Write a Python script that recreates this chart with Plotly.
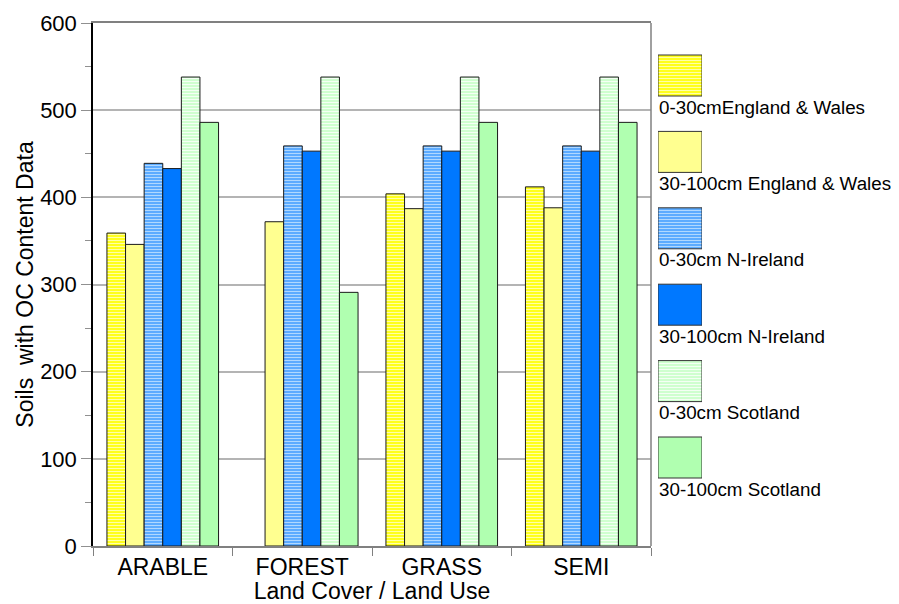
import plotly.graph_objects as go

categories = ["ARABLE", "FOREST", "GRASS", "SEMI"]
series_names = ["0-30cmEngland & Wales", "30-100cm England & Wales",
                "0-30cm N-Ireland", "30-100cm N-Ireland",
                "0-30cm Scotland", "30-100cm Scotland"]
ew_0_30 = [359, None, 404, 412]
ew_30_100 = [346, 372, 387, 388]
ni_0_30 = [439, 459, 459, 459]
ni_30_100 = [433, 453, 453, 453]
sc_0_30 = [538, 538, 538, 538]
sc_30_100 = [486, 291, 486, 486]
y_ticks = [0, 100, 200, 300, 400, 500, 600]

series_values = [ew_0_30, ew_30_100, ni_0_30, ni_30_100, sc_0_30, sc_30_100]
styles = [
    dict(bg="#FFFF00", fg="#FFFFA8", shape="-"),
    dict(bg="#FFFF90", fg="#FFFF90", shape=""),
    dict(bg="#4AA2FF", fg="#B0D8FF", shape="-"),
    dict(bg="#0078FF", fg="#0078FF", shape=""),
    dict(bg="#C8FFC8", fg="#F4FFF4", shape="-"),
    dict(bg="#B0FFB0", fg="#B0FFB0", shape=""),
]

FONT = "Liberation Sans, Arial, sans-serif"
OFF = 8  # default page body margin
W, H = 899 - OFF, 604 - OFF
# target pixel geometry (page coordinates)
plot_left, plot_top, plot_right, plot_bottom = 93, 23, 651, 546
ML = plot_left - OFF
MT = plot_top - OFF
MB = H - (plot_bottom - OFF)
MR = 4
PW = W - ML - MR
PH = H - MT - MB


def pattern(st):
    if st["shape"]:
        return dict(shape=st["shape"], bgcolor=st["bg"], fgcolor=st["fg"],
                    fgopacity=1, size=3, solidity=0.45, fillmode="replace")
    return dict(shape="")


fig = go.Figure()
for name, vals, st in zip(series_names, series_values, styles):
    fig.add_trace(go.Bar(
        x=categories, y=vals, name=name, showlegend=False,
        marker=dict(color=st["bg"], line=dict(color="#1a1a1a", width=1),
                    pattern=pattern(st)),
    ))

# custom legend: swatch squares with labels beneath
leg_top0 = 55 - plot_top     # px from plot top for first swatch
leg_step = 76.4
sw_h = 41
leg_x0 = (658 - plot_left) / PW
leg_x1 = (702 - plot_left) / PW
for i, (name, st) in enumerate(zip(series_names, styles)):
    base = PH - (leg_top0 + i * leg_step + sw_h)
    fig.add_trace(go.Bar(
        x=[0], y=[sw_h], base=[base], width=[1], offsetgroup="legend",
        xaxis="x2", yaxis="y2", showlegend=False, hoverinfo="skip",
        marker=dict(color=st["bg"], line=dict(color="#333333", width=1),
                    pattern=pattern(st)),
    ))
    fig.add_annotation(
        text=name, xref="paper", yref="y2", x=leg_x0 - 1 / PW,
        y=base - 11,
        xanchor="left", yanchor="middle", showarrow=False,
        font=dict(family=FONT, size=18.8, color="#000000"),
    )

main_right = (plot_right - plot_left) / PW
fig.update_layout(
    width=W, height=H,
    margin=dict(l=ML, r=MR, t=MT, b=MB, pad=0, autoexpand=False),
    paper_bgcolor="white", plot_bgcolor="white",
    barmode="group", bargap=0.2, bargroupgap=0,
    font=dict(family=FONT, size=23, color="#000000"),
    xaxis=dict(
        domain=[0, main_right], type="category", automargin=False,
        showline=True, linecolor="#808080", linewidth=1.5, mirror=True,
        ticks="outside", ticklen=8, tickcolor="#808080", tickson="boundaries",
        showgrid=False, tickfont=dict(size=23),
        title=dict(text="Land Cover / Land Use", font=dict(size=23), standoff=0),
    ),
    yaxis=dict(
        range=[0, 600], tickvals=y_ticks, automargin=False,
        showline=True, linecolor="#000000", linewidth=1.5,
        ticks="outside", ticklen=10, tickcolor="#909090",
        showgrid=True, gridcolor="#b4b4b4", gridwidth=1.5,
        minor=dict(dtick=50, ticks="outside", ticklen=6, tickcolor="#909090", showgrid=False),
        tickfont=dict(size=22), zeroline=False,
        title=dict(text="Soils  with OC Content Data", font=dict(size=23), standoff=0),
    ),
    xaxis2=dict(domain=[leg_x0, leg_x1], range=[-0.5, 0.5], visible=False, fixedrange=True),
    yaxis2=dict(domain=[0, 1], range=[0, PH], visible=False, anchor="x2", fixedrange=True),
    shapes=[dict(type="line", xref="x domain", yref="y domain", x0=1, x1=1, y0=0, y1=1,
                 line=dict(color="#808080", width=1.5))],
)

fig.write_html("out.html")
